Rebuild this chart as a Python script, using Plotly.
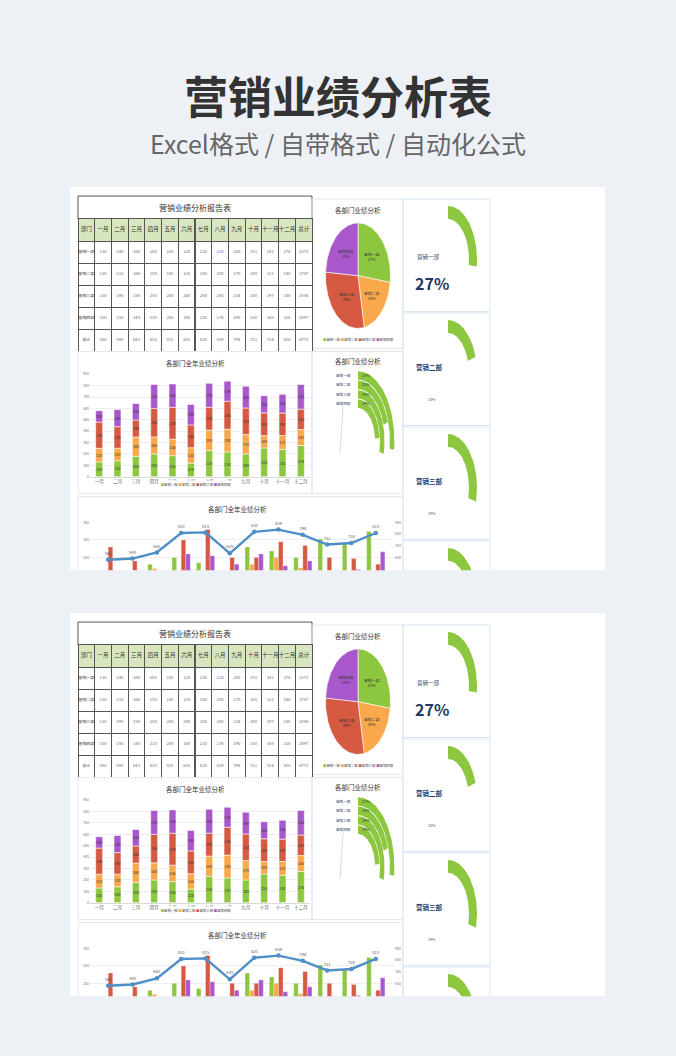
import numpy as np
import plotly.graph_objects as go

# ---- data ----
MONTHS = ["一月", "二月", "三月", "四月", "五月", "六月", "七月", "八月", "九月", "十月", "十一月", "十二月"]
DEPTS = ["营销一部", "营销二部", "营销三部", "营销四部"]
SALES_1 = [130, 140, 180, 200, 185, 120, 230, 218, 200, 253, 241, 274]
SALES_2 = [120, 110, 168, 150, 145, 135, 180, 200, 170, 108, 121, 140]
SALES_3 = [230, 190, 150, 250, 280, 200, 200, 245, 234, 200, 197, 180]
SALES_4 = [100, 150, 145, 210, 205, 180, 210, 176, 190, 150, 165, 216]

TITLE = "营销业绩分析表"
SUBTITLE = "Excel格式 / 自带格式 / 自动化公式"

W, H = 676, 1056
BG = "#edf0f5"
FONT = "Noto Sans CJK SC"
COLORS = ["#8dc63f", "#f9a94b", "#d65a41", "#a958cc"]
LINE_BLUE = "#4f8fc8"
NAVY = "#1f3864"
GRID = "#e4e4e4"

sales = [SALES_1, SALES_2, SALES_3, SALES_4]
dept_tot = [int(sum(s)) for s in sales]
month_tot = [int(sum(v)) for v in zip(*sales)]
grand = sum(dept_tot)
share = [t / grand for t in dept_tot]


def px(x):
    return x / W


def py(y):
    return 1 - y / H


def axname(kind, i):
    return kind + "axis" + ("" if i == 1 else str(i))


def ref(kind, i):
    return kind + ("" if i == 1 else str(i))


def ring(cx, cy, rxo, ryo, rxi, ryi, a1, n=60):
    th = np.linspace(0, a1, n)
    xs = np.r_[cx + rxo * np.sin(th), cx + rxi * np.sin(th[::-1])]
    ys = np.r_[cy - ryo * np.cos(th), cy - ryi * np.cos(th[::-1])]
    return np.r_[xs, xs[0]], np.r_[ys, ys[0]]


fig = go.Figure()
lay = {}
shapes, annos = [], []


def add_copy(k):
    oy = 428 * k
    a = 1 + 4 * k
    xo, yo = ref("x", a), ref("y", a)
    xb, yb = ref("x", a + 1), ref("y", a + 1)
    xc, yc, yr = ref("x", a + 2), ref("y", a + 2), ref("y", a + 3)

    # overlay axes in (local) pixel units covering the white card
    lay[axname("x", a)] = dict(domain=[px(70), px(605)], range=[70, 605], visible=False,
                               fixedrange=True, anchor=yo)
    lay[axname("y", a)] = dict(domain=[py(570 + oy), py(185 + oy)], range=[570, 185],
                               visible=False, fixedrange=True, anchor=xo)

    def box(x0, y0, x1, y1, fill="rgba(0,0,0,0)", line="#e1e6ed", lw=1):
        shapes.append(dict(type="rect", xref=xo, yref=yo, x0=x0, y0=y0, x1=x1, y1=y1,
                           fillcolor=fill, line=dict(color=line, width=lw), layer="below"))

    def text(x, y, s, size, color="#333", xanchor="center", **kw):
        annos.append(dict(xref=xo, yref=yo, x=x, y=y, text=s, showarrow=False,
                          xanchor=xanchor, yanchor="middle",
                          font=dict(family=FONT, size=size, color=color), **kw))

    def poly(xs, ys, color, lc="rgba(0,0,0,0)", lw=0):
        fig.add_trace(go.Scatter(x=xs, y=ys, xaxis=xo, yaxis=yo, mode="lines", fill="toself",
                                 fillcolor=color, line=dict(color=lc, width=lw),
                                 hoverinfo="skip", showlegend=False))

    box(70, 185, 605, 570, fill="white", lw=0)

    # ---- table ----
    box(78, 194, 312, 217, fill="white", line="#555")
    text(195, 205.5, "营销业绩分析报告表", 8)
    header_vals = ["部门"] + MONTHS + ["总计"]
    cols = [DEPTS + ["总计"]]
    cols += [[s[m] for s in sales] + [month_tot[m]] for m in range(12)]
    cols += [dept_tot + [grand]]
    fig.add_trace(go.Table(
        domain=dict(x=[px(78), px(312)], y=[py(350 + oy), py(217 + oy)]),
        columnwidth=[1] * 14,
        header=dict(values=header_vals, height=23, fill_color="#d8e6c0", align="center",
                    line=dict(color="#555", width=1),
                    font=dict(family=FONT, size=5.5, color="#333")),
        cells=dict(values=cols, height=22, fill_color="white", align="center",
                   line=dict(color="#555", width=1),
                   font=dict(family=FONT, size=[3.9] + [4.2] * 13,
                             color=["#333"] + ["#666"] * 13)),
    ))

    # ---- pie panel ----
    box(312, 197, 403, 347)
    text(358, 208, "各部门业绩分析", 6.5)
    cx, cy, rx, ry = 358, 274, 32.5, 53
    cum = np.concatenate([[0], np.cumsum(share)]) * 2 * np.pi
    for i in range(4):
        th = np.linspace(cum[i], cum[i + 1], 50)
        xs = np.r_[cx, cx + rx * np.sin(th), cx]
        ys = np.r_[cy, cy - ry * np.cos(th), cy]
        poly(xs, ys, COLORS[i], "white", 0.6)
        mid = (cum[i] + cum[i + 1]) / 2
        text(cx + 0.55 * rx * np.sin(mid), cy - 0.55 * ry * np.cos(mid),
             f"{DEPTS[i]}<br>{share[i]:.0%}", 3.8)
    leg = " ".join(f"<span style='color:{c}'>■</span>{d}" for c, d in zip(COLORS, DEPTS))
    text(358, 338, leg, 3.4, "#444")

    # ---- radial rings panel ----
    box(312, 350, 403, 493)
    text(358, 360, "各部门业绩分析", 6.5)
    rcx, rcy = 358, 440
    for i in range(4):
        ro = 70 - 9.5 * i
        ri = ro - 8.5
        xs, ys = ring(rcx, rcy, 0.52 * ro, ro, 0.52 * ri, ri, share[i] * 2 * np.pi)
        poly(xs, ys, COLORS[0])
        ym = rcy - (ro - 4.25)
        text(360, ym, f"{share[i]:.0%}", 3.6, "#333", xanchor="left")
        text(353, ym, DEPTS[i], 3.6, NAVY, xanchor="right")
    shapes.append(dict(type="line", xref=xo, yref=yo, x0=343, y0=406, x1=340, y1=452,
                       line=dict(color="#bcd3ea", width=0.8)))

    # ---- gauge panels ----
    for j in range(4):
        top = 197 + 114.5 * j
        box(403, top, 490, top + 113, line="#dbe6f3")
        xs, ys = ring(448, top + 61, 29, 54, 21, 41, share[j] * 2 * np.pi)
        poly(xs, ys, COLORS[0])
        if j == 0:
            text(415, top + 58, DEPTS[j], 5.5, NAVY, xanchor="left")
            text(413, top + 84, f"<b>{share[j]:.0%}</b>", 16, NAVY, xanchor="left")
        elif j < 3:
            text(414, top + 54, f"<b>{DEPTS[j]}</b>", 6.5, NAVY, xanchor="left")
            text(426, top + 87, f"{share[j]:.0%}", 3.6, "#555", xanchor="left")

    # ---- stacked bar panel ----
    box(78, 350, 312, 493)
    text(195, 362, "各部门全年业绩分析", 6.5)
    base = np.zeros(12)
    for i in range(4):
        fig.add_trace(go.Bar(
            x=MONTHS, y=sales[i], base=base.copy(), xaxis=xb, yaxis=yb,
            offsetgroup="stack", width=0.38,
            marker=dict(color=COLORS[i], line=dict(color="rgba(255,255,255,0.7)", width=0.8)),
            text=sales[i], texttemplate="%{text}", textposition="inside",
            insidetextanchor="middle", textangle=0, constraintext="none",
            textfont=dict(size=3.8, color="#333", family=FONT),
            hoverinfo="skip", showlegend=False))
        base += np.array(sales[i])
    lay[axname("x", a + 1)] = dict(domain=[px(90), px(310)], anchor=yb, showgrid=False,
                                   showline=True, linecolor="#d9d9d9", ticks="",
                                   tickfont=dict(size=4.5, color="#555", family=FONT))
    lay[axname("y", a + 1)] = dict(domain=[py(476 + oy), py(373 + oy)], anchor=xb,
                                   range=[0, 900], dtick=100, gridcolor=GRID, gridwidth=0.6,
                                   zeroline=False, ticks="",
                                   tickfont=dict(size=3.5, color="#777", family=FONT))
    text(196, 484, leg, 3.4, "#444", bgcolor="white", width=72)

    # ---- combo panel (grouped bars + total line) ----
    box(78, 496, 403, 580)
    text(237, 508, "各部门全年业绩分析", 6.5)
    for i in range(4):
        fig.add_trace(go.Bar(
            x=MONTHS, y=sales[i], xaxis=xc, yaxis=yc,
            marker=dict(color=COLORS[i], line=dict(color="rgba(255,255,255,0.6)", width=0.5)),
            hoverinfo="skip", showlegend=False))
    fig.add_trace(go.Scatter(
        x=MONTHS, y=month_tot, xaxis=xc, yaxis=yr, mode="lines+markers+text",
        line=dict(color=LINE_BLUE, width=2.4), marker=dict(size=4.5, color=LINE_BLUE),
        text=month_tot, textposition="top center", cliponaxis=False,
        textfont=dict(size=4.2, color="#555", family=FONT),
        hoverinfo="skip", showlegend=False))
    lay[axname("x", a + 2)] = dict(domain=[px(90), px(394)], anchor=yc, showticklabels=False,
                                   showgrid=False, showline=False, ticks="")
    lay[axname("y", a + 2)] = dict(domain=[py(570 + oy), py(522 + oy)], anchor=xc,
                                   range=[163, 300], tickvals=[200, 250, 300],
                                   gridcolor=GRID, gridwidth=0.6, zeroline=False, ticks="",
                                   tickfont=dict(size=3.5, color="#777", family=FONT))
    lay[axname("y", a + 3)] = dict(overlaying=yc, side="right", anchor=xc,
                                   range=[489, 900], tickvals=[600, 700, 800, 900],
                                   showgrid=False, zeroline=False, ticks="",
                                   tickfont=dict(size=3.5, color="#777", family=FONT))


for k in range(2):
    add_copy(k)

annos.append(dict(xref="paper", yref="paper", x=0.5, y=py(92), text=f"<b>{TITLE}</b>",
                  showarrow=False, yanchor="middle",
                  font=dict(family=FONT, size=44, color="#333333")))
annos.append(dict(xref="paper", yref="paper", x=0.5, y=py(141), text=SUBTITLE,
                  showarrow=False, yanchor="middle",
                  font=dict(family=FONT, size=25, color="#666666")))

fig.update_layout(
    width=W, height=H, margin=dict(l=0, r=0, t=0, b=0),
    paper_bgcolor=BG, plot_bgcolor="rgba(0,0,0,0)",
    barmode="group", bargap=0.25, bargroupgap=0,
    showlegend=False, font=dict(family=FONT),
    shapes=shapes, annotations=annos, **lay,
)

fig.write_html("out.html", config=dict(displayModeBar=False, staticPlot=True),
               post_script="document.body.style.margin='0px';document.body.style.overflow='hidden';")
